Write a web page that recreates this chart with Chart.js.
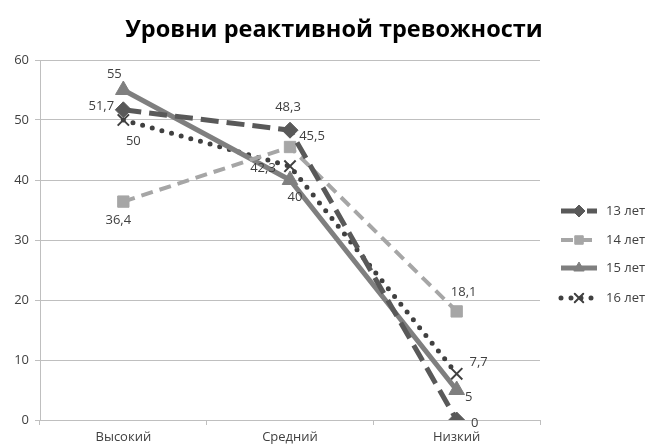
<!DOCTYPE html>
<html>
<head>
<meta charset="utf-8">
<script src="https://cdn.jsdelivr.net/npm/chart.js@4"></script>
<style>
  html, body { margin: 0; padding: 0; background: #ffffff; }
  #wrap { width: 652px; height: 448px; position: relative; }
</style>
</head>
<body>
<div id="wrap"><canvas id="c" width="652" height="448"></canvas></div>
<script>
// Levels of reactive anxiety by age group
const categories = ['Высокий', 'Средний', 'Низкий'];
const seriesNames = ['13 лет', '14 лет', '15 лет', '16 лет'];
const age13 = [51.7, 48.3, 0];
const age14 = [36.4, 45.5, 18.1];
const age15 = [55, 40, 5];
const age16 = [50, 42.3, 7.7];
const yTicks = [0, 10, 20, 30, 40, 50, 60];
const chartTitle = 'Уровни реактивной тревожности';

const FONT = "'Open Sans', 'DejaVu Sans', sans-serif";
const TEXT = '#404040';

// value-label offsets (px) relative to each point, per series
const labelOffsets = [
  [[-22, -4], [-2, -23], [18, 3]],
  [[-5, 19], [22, -11], [7, -19]],
  [[-9, -16], [5, 17], [12, 7]],
  [[10, 21], [-27, 2], [22, -12]]
];

const styles = [
  { color: '#595959', dash: [18, 8], width: 5, point: 'rectRot', radius: 8, cap: 'butt' },
  { color: '#a6a6a6', dash: [12, 7], width: 4, point: 'rect', radius: 8, cap: 'butt' },
  { color: '#7f7f7f', dash: [], width: 5, point: 'triangle', radius: 9, cap: 'butt' },
  { color: '#404040', dash: [0, 10], width: 5, point: 'crossRot', radius: 8, cap: 'round' }
];

const values = [age13, age14, age15, age16];

const datasets = values.map((vals, i) => ({
  label: seriesNames[i],
  data: vals,
  borderColor: styles[i].color,
  backgroundColor: styles[i].color,
  borderWidth: styles[i].width,
  borderDash: styles[i].dash,
  borderCapStyle: styles[i].cap,
  pointStyle: styles[i].point,
  pointRadius: styles[i].radius,
  pointBorderWidth: styles[i].point === 'crossRot' ? 2 : 1,
  pointBackgroundColor: styles[i].color,
  pointBorderColor: styles[i].color,
  tension: 0,
  fill: false
}));

const fmt = v => String(v).replace('.', ',');

// chart heading, centred over the plot plus legend
const heading = {
  id: 'heading',
  afterDraw(chart) {
    const ctx = chart.ctx;
    ctx.save();
    ctx.font = 'bold 23.5px ' + FONT;
    ctx.fillStyle = '#000000';
    ctx.textAlign = 'center';
    ctx.textBaseline = 'middle';
    ctx.fillText(chartTitle, 334, 30);
    ctx.restore();
  }
};

// draws the value next to each point
const valueLabels = {
  id: 'valueLabels',
  afterDatasetsDraw(chart) {
    const ctx = chart.ctx;
    ctx.save();
    ctx.font = '13px ' + FONT;
    ctx.fillStyle = TEXT;
    ctx.textAlign = 'center';
    ctx.textBaseline = 'middle';
    chart.data.datasets.forEach((ds, i) => {
      const meta = chart.getDatasetMeta(i);
      meta.data.forEach((pt, j) => {
        const off = labelOffsets[i][j];
        ctx.fillText(fmt(ds.data[j]), pt.x + off[0], pt.y + off[1]);
      });
    });
    ctx.restore();
  }
};

// legend on the right: line sample with the series marker
const sideLegend = {
  id: 'sideLegend',
  afterDraw(chart) {
    const ctx = chart.ctx;
    const x0 = 561, x1 = 597, ys = [211, 240, 268, 298];
    chart.data.datasets.forEach((ds, i) => {
      const y = ys[i];
      ctx.save();
      ctx.strokeStyle = ds.borderColor;
      ctx.fillStyle = ds.borderColor;
      ctx.lineWidth = ds.borderWidth;
      ctx.setLineDash(ds.borderDash);
      ctx.lineCap = ds.borderCapStyle;
      ctx.beginPath();
      ctx.moveTo(x0, y);
      ctx.lineTo(x1, y);
      ctx.stroke();
      ctx.setLineDash([]);
      ctx.lineWidth = ds.pointBorderWidth;
      Chart.helpers.drawPoint(ctx, {
        pointStyle: ds.pointStyle,
        radius: ds.pointStyle === 'triangle' ? 6 : 6,
        borderWidth: ds.pointBorderWidth,
        rotation: 0
      }, (x0 + x1) / 2, y);
      ctx.restore();
      ctx.save();
      ctx.font = '13px ' + FONT;
      ctx.fillStyle = TEXT;
      ctx.textBaseline = 'middle';
      ctx.fillText(ds.label, 606, y);
      ctx.restore();
    });
  }
};

Chart.defaults.font.family = FONT;

new Chart(document.getElementById('c'), {
  type: 'line',
  data: { labels: categories, datasets },
  options: {
    responsive: false,
    animation: false,
    layout: { padding: { top: 60, right: 112, left: 0, bottom: 0 } },
    plugins: {
      legend: { display: false },
      tooltip: { enabled: false },
      title: { display: false }
    },
    scales: {
      x: {
        type: 'category',
        offset: true,
        grid: { display: true, drawOnChartArea: false, offset: true, tickLength: 5, color: '#bfbfbf' },
        border: { color: '#bfbfbf' },
        ticks: { color: TEXT, font: { size: 13 }, padding: 4, maxRotation: 0 },
        afterFit(s) { s.height = 28; }
      },
      y: {
        min: 0,
        max: 60,
        afterBuildTicks(s) { s.ticks = yTicks.map(v => ({ value: v })); },
        grid: { color: '#bfbfbf', tickLength: 5 },
        border: { color: '#bfbfbf' },
        ticks: { color: TEXT, font: { size: 13 }, padding: 6 },
        afterFit(s) { s.width = 40; }
      }
    }
  },
  plugins: [heading, valueLabels, sideLegend]
});
</script>
</body>
</html>
